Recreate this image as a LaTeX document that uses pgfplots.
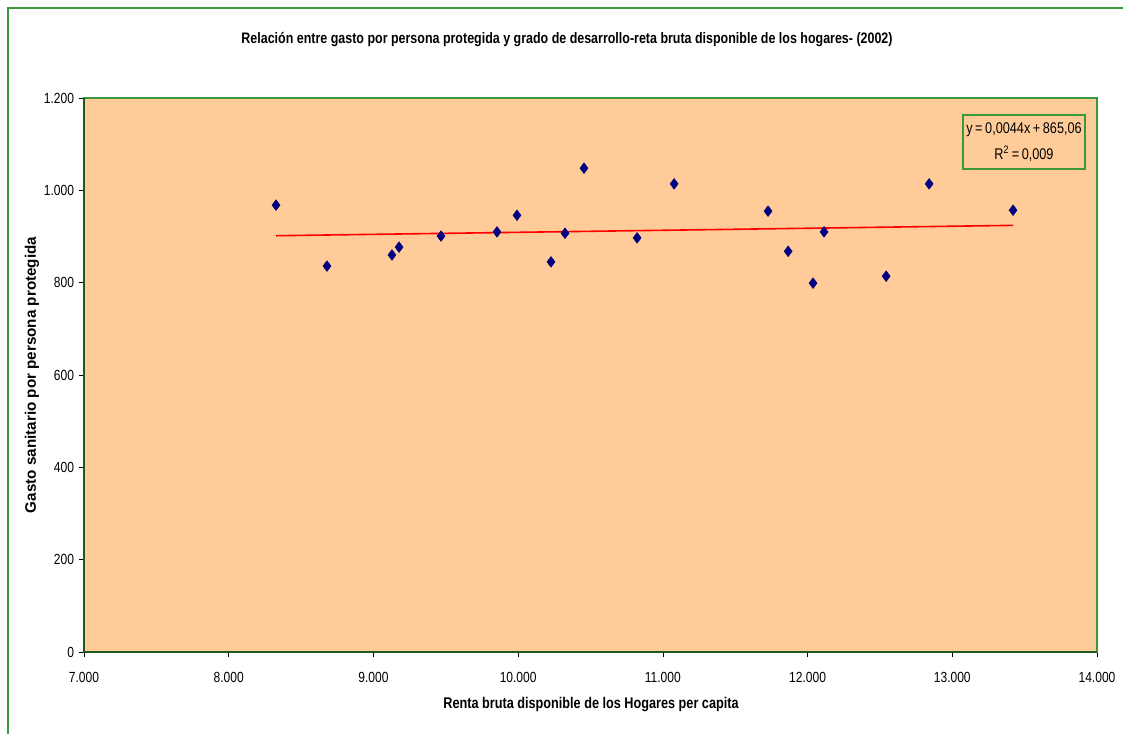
\documentclass[border=0pt]{standalone}
\usepackage{pgfplots}
\pgfplotsset{compat=1.18}
\usepackage{fontspec}
\setmainfont{Liberation Sans}
\newfontfamily\cond[FakeStretch=0.82]{Liberation Sans}
\definecolor{plotbg}{HTML}{FFCC99}
\definecolor{frameg}{HTML}{3A9A3A}
\definecolor{axisg}{HTML}{1E5A1E}
\definecolor{navymk}{HTML}{000080}
\begin{document}
\begin{tikzpicture}
\useasboundingbox (0,0) rectangle (842.25pt,549.75pt);
\fill[white] (0,0) rectangle (842.25pt,549.75pt);
\draw[frameg, line width=1.3pt] (6pt,-2pt) -- (6pt,543.75pt) -- (845pt,543.75pt);
\begin{axis}[
  at={(63pt,60.75pt)}, anchor=south west,
  scale only axis, width=759.75pt, height=415.5pt,
  xmin=7000, xmax=14000, ymin=0, ymax=1200,
  xtick={7000,8000,...,14000}, ytick={0,200,...,1200},
  axis background/.style={fill=plotbg},
  axis line style={frameg, line width=1pt},
  tick align=outside, tick pos=left,
  major tick length=4pt,
  tick style={black, line width=0.4pt},
  scaled ticks=false,
  /pgf/number format/.cd, 1000 sep={.}, assume math mode=true,
  /pgfplots/.cd,
  ticklabel style={font=\cond\fontsize{11}{13}\selectfont},
  xticklabel style={yshift=-8pt},
  yticklabel style={xshift=0pt},
  clip=false,
]
\draw[axisg, line width=1.3pt] (rel axis cs:0,1) -- (rel axis cs:0,0) -- (rel axis cs:1,0);
\addplot[only marks, mark=diamond*, mark size=4pt, mark options={fill=navymk, draw=navymk}]
coordinates {
(8327,968) (8679,836) (9128,860) (9177,877) (9467,901) (9854,910) (9992,946)
(10227,845) (10324,907) (10455,1048) (10822,897) (11078,1014) (11727,955)
(11866,868) (12038,799) (12114,910) (12543,814) (12840,1014) (13420,957)
};
\addplot[red, line width=1.2pt] coordinates {(8327,901.7) (13420,924.1)};
\end{axis}
\node[font=\cond\bfseries\fontsize{11.4}{13}\selectfont] at (425.25pt,519.75pt) {Relación entre gasto por persona protegida y grado de desarrollo-reta bruta disponible de los hogares- (2002)};
\node[font=\cond\bfseries\fontsize{11.6}{13}\selectfont] at (443.25pt,21pt) {Renta bruta disponible de los Hogares per capita};
\node[font=\bfseries\fontsize{11.4}{13}\selectfont, rotate=90] at (24pt,268.5pt) {Gasto sanitario por persona protegida};
\draw[frameg, line width=0.8pt] (722.25pt,423pt) rectangle (813.75pt,463.5pt);
\node[font=\cond\fontsize{11.6}{13}\selectfont] at (768pt,452.25pt) {y\,=\,0,0044x\,+\,865,06};
\node[font=\cond\fontsize{11.6}{13}\selectfont] at (768pt,434.25pt) {R\textsuperscript{2}\,=\,0,009};
\end{tikzpicture}
\end{document}
